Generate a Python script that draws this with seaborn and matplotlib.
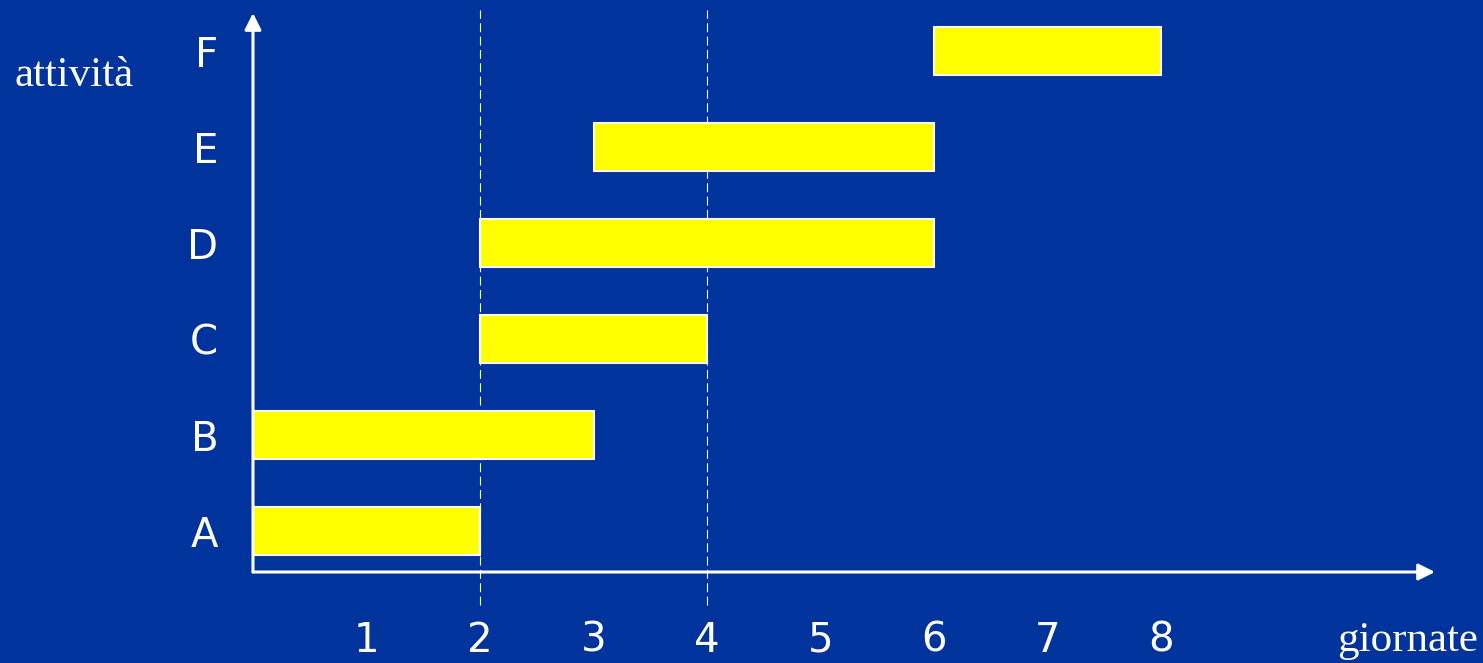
import matplotlib
matplotlib.use("Agg")
import matplotlib.pyplot as plt
import numpy as np
import pandas as pd
import seaborn as sns

# ---- data ----
activities = ["A", "B", "C", "D", "E", "F"]
start_days = [0, 0, 2, 2, 3, 6]
end_days = [2, 3, 4, 6, 6, 8]
milestones = [2, 4]
day_ticks = [1, 2, 3, 4, 5, 6, 7, 8]
y_title = "attività"
x_title = "giornate"

BG = "#00339c"
BAR = "#ffff00"

sns.set_theme(style="white")
plt.rcParams["font.family"] = ["DejaVu Sans"]

W, H = 1483, 663
fig = plt.figure(figsize=(W / 100, H / 100), dpi=100, facecolor=BG)
ax = fig.add_axes([253 / W, 1 - 572 / H, (1435 - 253) / W, (572 - 13) / H])
ax.set_facecolor("none")

df = pd.DataFrame({"attività": activities, "inizio": start_days, "fine": end_days})
order = activities[::-1]
sns.barplot(data=df, x="fine", y="attività", order=order, orient="h",
            width=0.5, color=BAR, saturation=1, edgecolor="white",
            linewidth=1.5, ax=ax)
lookup = df.set_index("attività")
for patch, act in zip(ax.patches, order):
    s = lookup.loc[act, "inizio"]
    e = lookup.loc[act, "fine"]
    patch.set_x(s)
    patch.set_width(e - s)

ax.set_xlim(0, (1435 - 253) / 113.5)
ax.set_ylim(5 + 0.427, 5 - (531 - 13) / 96)

for m in milestones:
    ax.axvline(m, ymin=-0.059, ymax=1.005, clip_on=False, color="white",
               lw=0.8, ls=(0, (8, 4)), zorder=0)

for sp in ax.spines.values():
    sp.set_visible(False)

ax.set_xticks(day_ticks)
ax.set_xticklabels([str(d) for d in day_ticks])
ax.tick_params(axis="x", length=0, pad=35, labelsize=29, labelcolor="white")
ax.tick_params(axis="y", length=0, pad=25, labelsize=29, labelcolor="white")
ax.set_xlabel("")
ax.set_ylabel("")

arrow = dict(arrowstyle="-|>", color="white", lw=2.2, mutation_scale=25,
             shrinkA=0, shrinkB=0)
ax.annotate("", xy=(1.0, 0.0), xytext=(0.0, 0.0), xycoords="axes fraction",
            textcoords="axes fraction", arrowprops=arrow, annotation_clip=False)
ax.annotate("", xy=(0.0, 1.0), xytext=(0.0, 0.0), xycoords="axes fraction",
            textcoords="axes fraction", arrowprops=arrow, annotation_clip=False)

fig.text(15 / W, 1 - 76 / H, y_title, family="Liberation Serif", fontsize=31,
         color="white", ha="left", va="center")
fig.text(1478 / W, 1 - 651 / H, x_title, family="Liberation Serif", fontsize=31,
         color="white", ha="right", va="baseline")

fig.savefig("out.png", dpi=100, facecolor=BG)
